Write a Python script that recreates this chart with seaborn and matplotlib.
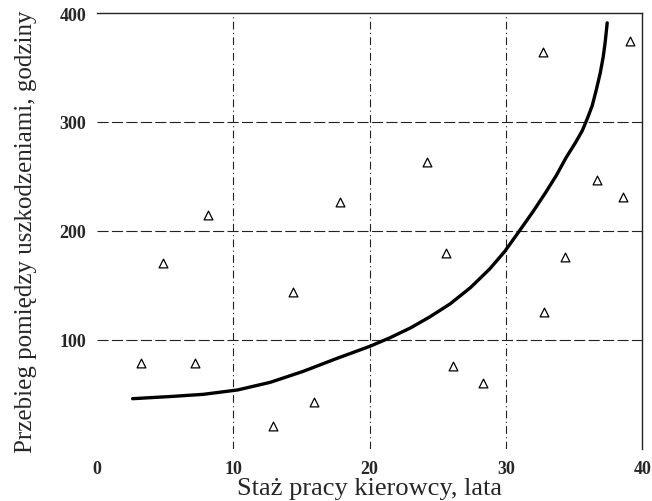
import matplotlib
matplotlib.use("Agg")
import matplotlib.pyplot as plt
import seaborn as sns
import pandas as pd

# staz pracy (lata) vs przebieg miedzy uszkodzeniami (godziny)
staz = [3.2, 7.2, 4.8, 8.1, 14.4, 12.9, 15.9, 17.8, 24.2, 25.6,
        26.1, 28.3, 32.7, 32.8, 34.3, 36.7, 38.6, 39.1]
przebieg = [79, 79, 171, 215, 144, 21, 43, 227, 263, 180,
            76, 60, 364, 126, 176, 247, 231, 374]

# krzywa
krzywa_x = [2.6, 5.4, 7.8, 10.3, 12.7, 15.1, 17.6, 20.0, 21.5, 23.0,
            24.4, 25.9, 27.4, 28.8, 29.9, 31.1, 32.0, 32.9, 33.7, 34.4,
            35.1, 35.6, 36.0, 36.33, 36.62, 36.92, 37.14, 37.28, 37.43]
krzywa_y = [46, 48, 50, 54, 61, 71, 83, 94, 102, 111,
            121, 133, 148, 165, 181, 202, 218, 235, 251, 267,
            281, 292, 304, 315, 329, 345, 360, 373, 391]

x_ticks = [0, 10, 20, 30, 40]
y_ticks = [100, 200, 300, 400]

sns.set_style("white")
plt.rcParams['font.family'] = ['Liberation Serif', 'DejaVu Serif']

fig = plt.figure(figsize=(6.52, 5.02), dpi=100)
ax = fig.add_axes([0.149, 0.104, 0.836, 0.868])

pts = pd.DataFrame({"x": staz, "y": przebieg})
curve = pd.DataFrame({"x": krzywa_x, "y": krzywa_y})

# grid first so it stays behind
for yv in y_ticks[:-1]:
    ax.axhline(yv, color="#222222", lw=0.8, ls=(0, (10, 3)), zorder=1)
for xv in x_ticks[1:-1]:
    ax.axvline(xv, color="#222222", lw=0.8, ls=(0, (7, 3, 1, 3)), zorder=1)

sns.lineplot(data=curve, x="x", y="y", ax=ax, color="black", lw=2.4,
             sort=False, estimator=None, zorder=3)
sns.scatterplot(data=pts, x="x", y="y", ax=ax, marker="^", s=40,
                facecolor="white", edgecolor="black", linewidth=0.9, zorder=4)

ax.set_xlim(0, 40)
ax.set_ylim(0, 400)
ax.set_xticks(x_ticks)
ax.set_yticks(y_ticks)
ax.tick_params(length=0, labelsize=13, pad=8)
for lab in ax.get_xticklabels() + ax.get_yticklabels():
    lab.set_fontweight("bold")

for side in ["left", "bottom"]:
    ax.spines[side].set_visible(False)
for side in ["top", "right"]:
    ax.spines[side].set_color("#222222")
    ax.spines[side].set_linewidth(1.0)

ax.set_xlabel("Staż pracy kierowcy, lata", fontsize=19, labelpad=0)
ax.set_ylabel("Przebieg pomiędzy uszkodzeniami, godziny", fontsize=18, labelpad=16)

fig.savefig("out.png", dpi=100)
